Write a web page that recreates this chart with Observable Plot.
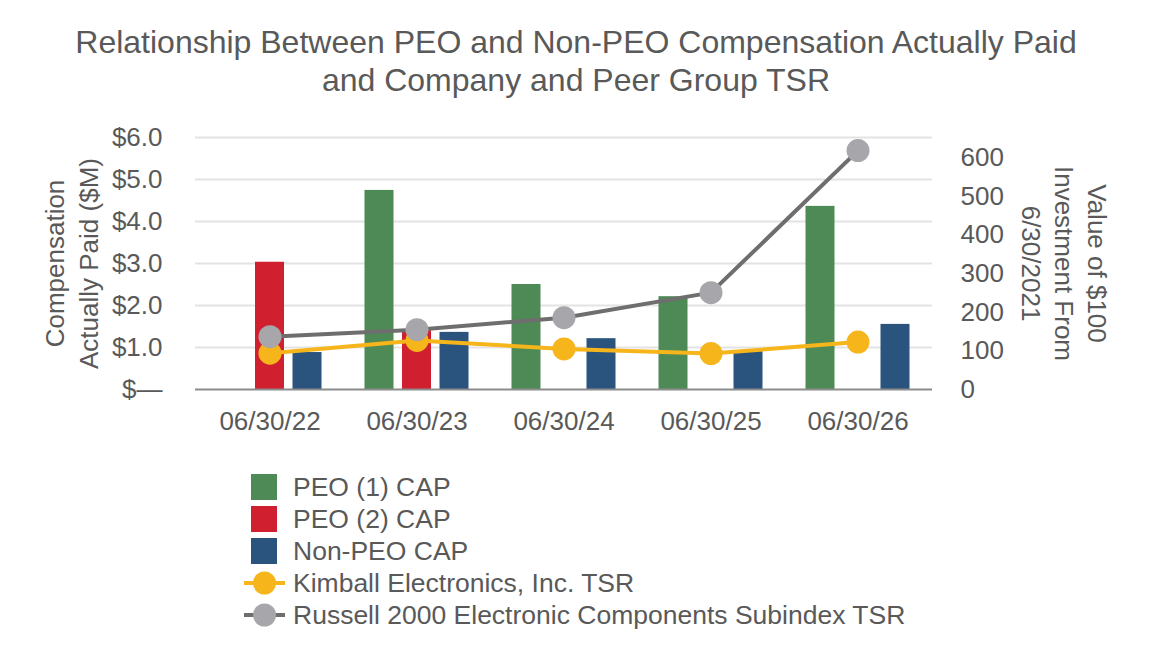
<!DOCTYPE html>
<html>
<head>
<meta charset="utf-8">
<script src="https://cdn.jsdelivr.net/npm/d3@7"></script>
<script src="https://cdn.jsdelivr.net/npm/@observablehq/plot@0.6"></script>
<style>
  html, body { margin: 0; padding: 0; background: #fff; }
  body { width: 1152px; height: 672px; position: relative; overflow: hidden;
         font-family: "Liberation Sans", Arial, sans-serif; color: #595959; }
  #title { position: absolute; left: 0; top: 23px; width: 1152px; text-align: center;
           font-size: 32px; line-height: 38px; color: #595959; }
  #chart { position: absolute; left: 0; top: 0; }
  #legend { position: absolute; left: 244px; top: 0; }
  .item { position: absolute; left: 0; height: 32px; display: flex; align-items: center;
          font-size: 26.5px; white-space: nowrap; color: #595959; }
  .sw { width: 26px; height: 26px; margin-left: 7px; margin-right: 16px; }
  .ln { width: 41px; height: 26px; margin-right: 8px; }
</style>
</head>
<body>
<div id="title">Relationship Between PEO and Non-PEO Compensation Actually Paid<br>and Company and Peer Group TSR</div>
<div id="chart"></div>
<div id="legend"></div>
<script>
// ---- data ----
const categories = ["06/30/22", "06/30/23", "06/30/24", "06/30/25", "06/30/26"];
const peo1Cap   = [null, 4.74, 2.50, 2.21, 4.36];
const peo2Cap   = [3.03, 1.42, null, null, null];
const nonPeoCap = [0.88, 1.36, 1.21, 0.91, 1.55];
const kimballTsr = [94, 127, 105, 93, 123];
const russellTsr = [137, 155, 186, 251, 619];
const leftTicks  = [0, 1, 2, 3, 4, 5, 6];
const rightTicks = [0, 100, 200, 300, 400, 500, 600];
const leftMax = 6;
const rightMax = 653;
const barSeries = ["PEO (1) CAP", "PEO (2) CAP", "Non-PEO CAP"];
const barColors = ["#4E8A55", "#D0202F", "#2A547E"];
const lineSeries = ["Kimball Electronics, Inc. TSR", "Russell 2000 Electronic Components Subindex TSR"];
const lineColors = ["#F6B51B", "#6E6E6E"];
const dotColors  = ["#F6B51B", "#A6A6AB"];
const leftTitle  = "Compensation\nActually Paid ($M)";
const rightTitle = "Value of $100\nInvestment From\n6/30/2021";

// ---- build tables ----
const barValues = [peo1Cap, peo2Cap, nonPeoCap];
const barRows = barValues.map(vals =>
  categories.map((c, i) => ({cat: c, v: vals[i]})).filter(d => d.v != null));
const toLeft = v => v * leftMax / rightMax;
const lineValues = [kimballTsr, russellTsr];
const lineRows = lineValues.map(vals => categories.map((c, i) => ({cat: c, v: toLeft(vals[i])})));

const text = "#595959";
const offsets = [-37.5, 0, 37.5];

const marks = [
  Plot.gridY(leftTicks.filter(t => t > 0), {stroke: "#E3E3E3", strokeOpacity: 1, strokeWidth: 2}),
  ...barRows.map((rows, k) => Plot.barY(rows, {
    x: "cat", y: "v", fill: barColors[k], insetLeft: 59, insetRight: 59, dx: offsets[k]
  })),
  Plot.ruleY([0], {stroke: "#8C8C8C", strokeWidth: 2}),
  ...lineRows.flatMap((rows, k) => [
    Plot.line(rows, {x: "cat", y: "v", stroke: lineColors[k], strokeWidth: 4}),
    Plot.dot(rows, {x: "cat", y: "v", r: 11.5, fill: dotColors[k], stroke: null})
  ]),
  Plot.axisY(leftTicks, {
    anchor: "left", tickSize: 0, tickPadding: 33, fontSize: 26, fill: text, label: null,
    tickFormat: d => d === 0 ? "$\u2014" : "$" + d.toFixed(1)
  }),
  Plot.axisY(rightTicks, {
    anchor: "right", y: toLeft, tickSize: 0, tickPadding: 28, fontSize: 26, fill: text, label: null,
    tickFormat: d => String(d)
  }),
  Plot.axisX({tickSize: 0, tickPadding: 22, fontSize: 26, fill: text, label: null}),
  Plot.text([leftTitle], {frameAnchor: "left", textAnchor: "middle", dx: -125, rotate: -90,
    fontSize: 26, lineHeight: 1.3, fill: text}),
  Plot.text([rightTitle], {frameAnchor: "right", textAnchor: "middle", dx: 133, rotate: 90,
    fontSize: 26, lineHeight: 1.27, fill: text})
];

const chart = Plot.plot({
  width: 1152,
  height: 460,
  marginLeft: 195,
  marginRight: 220,
  marginTop: 137,
  marginBottom: 71,
  style: {fontFamily: "Liberation Sans, Arial, sans-serif", background: "transparent", overflow: "visible"},
  x: {type: "band", domain: categories, padding: 0, label: null},
  y: {domain: [0, leftMax], label: null},
  marks
});
document.getElementById("chart").appendChild(chart);

// ---- legend ----
const legend = document.getElementById("legend");
const centers = [487, 519, 551, 583, 615];
barSeries.forEach((name, k) => {
  const it = document.createElement("div");
  it.className = "item";
  it.style.top = (centers[k] - 16) + "px";
  it.innerHTML = `<div class="sw" style="background:${barColors[k]}"></div><span></span>`;
  it.querySelector("span").textContent = name;
  legend.appendChild(it);
});
lineSeries.forEach((name, k) => {
  const it = document.createElement("div");
  it.className = "item";
  it.style.top = (centers[3 + k] - 16) + "px";
  it.innerHTML = `<svg class="ln" viewBox="0 0 41 26"><line x1="0" y1="13" x2="41" y2="13" stroke="${lineColors[k]}" stroke-width="4"/><circle cx="20.5" cy="13" r="11.5" fill="${dotColors[k]}"/></svg><span></span>`;
  it.querySelector("span").textContent = name;
  legend.appendChild(it);
});
</script>
</body>
</html>
